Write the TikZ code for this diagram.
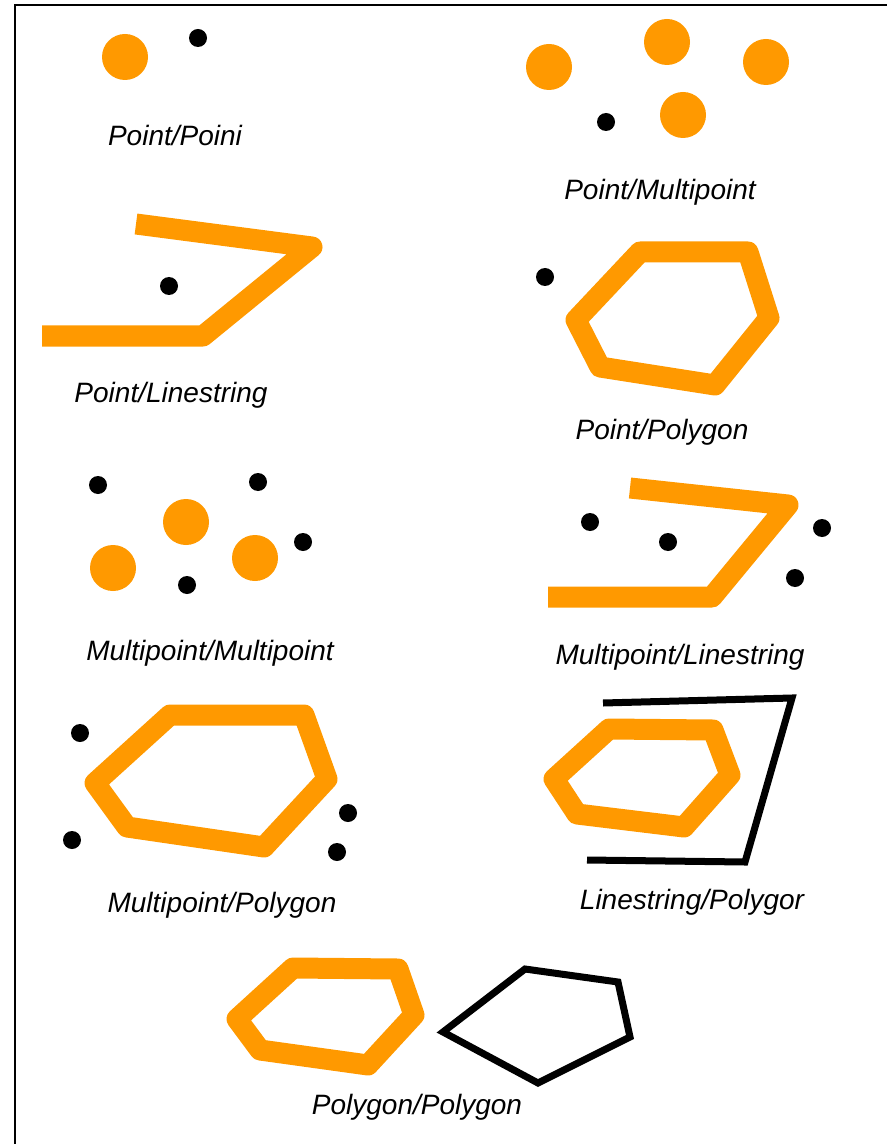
\documentclass[tikz,border=0pt]{standalone}
\usepackage{fontspec}
\setmainfont{Liberation Sans}
\definecolor{geomfill}{HTML}{FF9900}
\definecolor{probeink}{HTML}{000000}
\tikzset{
  blob/.style={circle, fill=geomfill, inner sep=0pt, minimum size=23pt},
  probe/.style={circle, fill=probeink, inner sep=0pt, minimum size=9pt},
  geomline/.style={draw=geomfill, line width=10.5pt, line join=round},
  probeline/.style={draw=probeink, line width=3.5pt, line join=miter},
  frameline/.style={draw=probeink, line width=1pt},
  pairlbl/.style={font=\fontsize{14}{16}\selectfont\itshape, inner sep=0pt},
}
\begin{document}
\begin{tikzpicture}[x=0.5pt,y=-0.5pt]
  \useasboundingbox (0,0) rectangle (887,1144);
  \draw[frameline] (15,1144) -- (15,5) -- (887,5);
  \node[blob] (ppA) at (125,57) {};
  \node[probe] (ppB) at (198,38) {};
  \node[pairlbl] (lblPP) at (175,135) {Point/Poini};
  \node[blob] (pmA) at (549,67) {};
  \node[blob] (pmB) at (667,42) {};
  \node[blob] (pmC) at (766,62) {};
  \node[blob] (pmD) at (683,115) {};
  \node[probe] (pmE) at (606,122) {};
  \node[pairlbl] (lblPM) at (660,192) {Point/Multipoint};
  \draw[geomline] (42,336) -- (203,336) -- (312,247) -- (136,224);
  \node[probe] (plA) at (169,286) {};
  \node[pairlbl] (lblPL) at (171,395) {Point/Linestring};
  \draw[geomline] (640,252) -- (748,252) -- (769,318) -- (715,385) -- (600,367) -- (576,320) -- cycle;
  \node[probe] (pgA) at (545,277) {};
  \node[pairlbl] (lblPG) at (662,432) {Point/Polygon};
  \node[probe] (mmA) at (98,485) {};
  \node[probe] (mmB) at (258,482) {};
  \node[probe] (mmC) at (303,542) {};
  \node[probe] (mmD) at (187,585) {};
  \node[blob] (mmE) at (113,568) {};
  \node[blob] (mmF) at (186,522) {};
  \node[blob] (mmG) at (255,558) {};
  \node[pairlbl] (lblMM) at (210,653) {Multipoint/Multipoint};
  \draw[geomline] (548,597) -- (712,597) -- (788,505) -- (630,488);
  \node[probe] (mlA) at (590,522) {};
  \node[probe] (mlB) at (668,542) {};
  \node[probe] (mlC) at (822,528) {};
  \node[probe] (mlD) at (795,578) {};
  \node[pairlbl] (lblML) at (680,657) {Multipoint/Linestring};
  \draw[geomline] (170,715) -- (304,715) -- (327,779) -- (264,847) -- (127,827) -- (95,783) -- cycle;
  \node[probe] (mgA) at (80,733) {};
  \node[probe] (mgB) at (72,840) {};
  \node[probe] (mgC) at (348,813) {};
  \node[probe] (mgD) at (337,852) {};
  \node[pairlbl] (lblMG) at (222,905) {Multipoint/Polygon};
  \draw[probeline] (603,703) -- (792,698) -- (745,862) -- (587,860);
  \draw[geomline] (609,729) -- (713,730) -- (730,775) -- (684,827) -- (577,814) -- (554,779) -- cycle;
  \node[pairlbl] (lblLG) at (692,902) {Linestring/Polygor};
  \draw[geomline] (293,968) -- (398,969) -- (414,1015) -- (368,1065) -- (260,1050) -- (237,1019) -- cycle;
  \draw[probeline] (443,1032) -- (525,969) -- (618,982) -- (630,1037) -- (538,1083) -- cycle;
  \node[pairlbl] (lblGG) at (417,1107) {Polygon/Polygon};
\end{tikzpicture}
\end{document}
